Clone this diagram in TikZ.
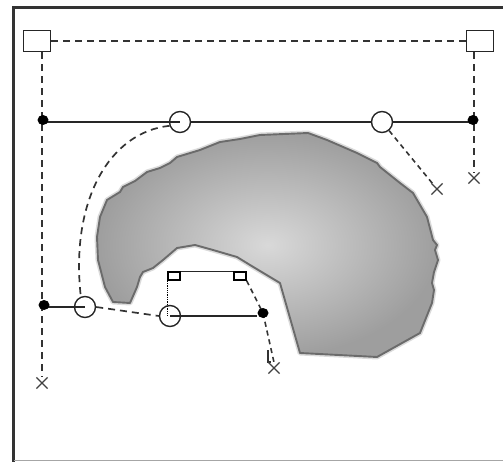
\documentclass[tikz,border=0pt]{standalone}
\usetikzlibrary{shapes.misc,shapes.geometric}
\pgfdeclarelayer{blob}
\pgfdeclarelayer{wires}
\pgfsetlayers{blob,wires,main}

\begin{document}
\begin{tikzpicture}[x=1pt,y=-1pt,
  handle/.style={draw=black!85, line width=1.5pt, fill=white, minimum width=27pt, minimum height=21pt, inner sep=0pt},
  knob/.style={circle, draw=black!85, line width=1.4pt, minimum size=21pt, inner sep=0pt},
  pin/.style={ellipse, fill=black, minimum width=11pt, minimum height=10pt, inner sep=0pt},
  endx/.style={cross out, draw=black!75, line width=1.2pt, minimum size=10pt, inner sep=0pt},
  tab/.style={draw=black, line width=1.3pt, fill=white, minimum width=12pt, minimum height=8pt, inner sep=0pt},
  guide/.style={dash pattern=on 7pt off 5pt, line width=1.7pt, draw=black!80},
  fineguide/.style={dash pattern=on 5pt off 4pt, line width=1.6pt, draw=black!80},
  bar/.style={line width=1.5pt, draw=black!85},
]
\useasboundingbox (0,0) rectangle (503,462);

% frame
\draw[line width=2.8pt, black!80] (13.5,462) -- (13.5,7.5) -- (503,7.5);
\draw[line width=1.2pt, black!35] (13.5,460.5) -- (503,460.5);

% shaded shape
\begin{pgfonlayer}{blob}
  \def\blobpath{(97,237) -- (100,217) -- (107,200) -- (120,192) -- (123,187) -- (135,181) -- (147,172) -- (160,168) -- (170,163) -- (177,157) -- (200,150) -- (220,142) -- (240,139) -- (260,135) -- (308,133) -- (327,140) -- (357,153) -- (377,163) -- (380,167) -- (400,183) -- (413,193) -- (427,217) -- (433,240) -- (437,245) -- (435,250) -- (438,260) -- (434,272) -- (432,283) -- (434,290) -- (432,303) -- (420,333) -- (377,357) -- (300,353) -- (280,283) -- (250,265) -- (237,257) -- (213,250) -- (195,245) -- (177,248) -- (163,260) -- (153,268) -- (143,272) -- (140,277) -- (137,287) -- (130,303) -- (113,302) -- (105,287) -- (98,260) -- cycle}
  \draw[line width=5pt, black!14, line join=round] \blobpath;
  \shade[inner color=black!15, outer color=black!38] \blobpath;
  \draw[line width=1.9pt, black!58, line join=round] \blobpath;
\end{pgfonlayer}

% handles, pins, knobs, end marks
\node[handle] (hL) at (37,41) {};
\node[handle] (hR) at (480,41) {};
\node[pin] (pL) at (43,120) {};
\node[pin] (pR) at (473,120) {};
\node[knob] (k1) at (180,122) {};
\node[knob] (k2) at (382,122) {};
\node[endx] (xR) at (474,178) {};
\node[endx] (x2) at (437,189) {};
\node[pin] (pL2) at (44,305) {};
\node[knob] (k3) at (85,307) {};
\node[knob] (k4) at (170,316) {};
\node[pin] (p3) at (263,313) {};
\node[endx] (xL) at (42,383) {};
\node[endx] (x3) at (274,368) {};
\node[tab] (t1) at (174,276) {};
\node[tab] (t2) at (240,276) {};

\begin{pgfonlayer}{wires}
  % dashed guide frame
  \draw[guide] (hL.east) -- (hR.west);
  \draw[guide] (hL.south -| xL.center) -- (xL.north);
  \draw[guide] (hR.south -| xR.center) -- (xR.north);
  % upper bar
  \draw[bar] (pL.center |- k1.center) -- (k1.center);
  \draw[bar] (k1.east) -- (k2.west);
  \draw[bar] (k2.east) -- (pR.center |- k2.center);
  \draw[fineguide] (k2) -- (x2);
  % curved guide
  \draw[guide] (k1.200) .. controls (110,132) and (70,200) .. (k3.112);
  % lower bar
  \draw[bar] (pL2.center |- k3.center) -- (k3.center);
  \draw[guide] (k3.east) -- (k4.west);
  \draw[bar] (k4.center) -- (k4.center -| p3.west);
  % bracket
  \draw[bar] (t1.north east) -- (t2.north west);
  \draw[densely dotted, line width=1.3pt] (t1.south west) -- (t1.south west |- k4.center);
  \draw[fineguide] (t2.south east) -- (p3.center);
  \draw[fineguide] (p3.center) -- (x3.north);
  \draw[line width=1.1pt, black!80] (268,350) -- (268,362) -- (271,362);
\end{pgfonlayer}
\end{tikzpicture}
\end{document}
